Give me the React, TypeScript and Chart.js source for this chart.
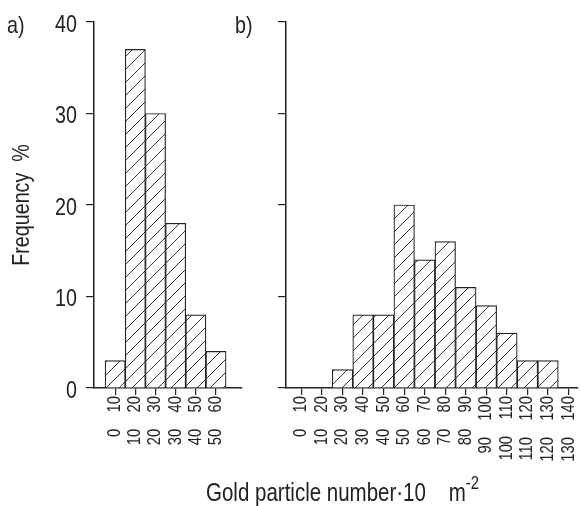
import React, { useEffect, useRef } from "react";
import { Chart, registerables } from "chart.js";

Chart.register(...registerables);

// ---- data ----
const lowA = [0, 10, 20, 30, 40, 50];
const highA = [10, 20, 30, 40, 50, 60];
const freqA = [3, 37, 30, 18, 8, 4];

const lowB = [0, 10, 20, 30, 40, 50, 60, 70, 80, 90, 100, 110, 120, 130];
const highB = [10, 20, 30, 40, 50, 60, 70, 80, 90, 100, 110, 120, 130, 140];
const freqB = [0, 0, 2, 8, 8, 20, 14, 16, 11, 9, 6, 3, 3, 0];

const yTicks = [0, 10, 20, 30, 40];

const INK = "#222";
const FAMILY = "'Liberation Sans', Arial, sans-serif";
const NARROW = 0.82;

// draws canvas text horizontally condensed (like a narrow Helvetica)
const narrowText = {
  id: "narrowText",
  beforeDraw(chart: any) {
    const ctx: any = chart.ctx;
    if (ctx.__narrow) return;
    const orig = ctx.fillText;
    ctx.fillText = function (text: string, x: number, y: number, maxWidth?: number) {
      this.save();
      this.translate(x, y);
      this.scale(NARROW, 1);
      if (maxWidth === undefined || maxWidth === null) orig.call(this, text, 0, 0);
      else orig.call(this, text, 0, 0, maxWidth / NARROW);
      this.restore();
    };
    ctx.__narrow = true;
  },
};

function makePattern(ctx: CanvasRenderingContext2D) {
  const s = 13;
  const c = document.createElement("canvas");
  c.width = s;
  c.height = s;
  const g = c.getContext("2d")!;
  g.fillStyle = "#fff";
  g.fillRect(0, 0, s, s);
  g.strokeStyle = "#333";
  g.lineWidth = 1;
  g.beginPath();
  g.moveTo(-1, s + 1);
  g.lineTo(s + 1, -1);
  g.moveTo(-2, 1);
  g.lineTo(1, -2);
  g.moveTo(s - 1, s + 2);
  g.lineTo(s + 2, s - 1);
  g.stroke();
  return ctx.createPattern(c, "repeat");
}

function buildConfig(
  low: number[],
  high: number[],
  freq: number[],
  xmin: number,
  xmax: number,
  yWidth: number,
  rightPad: number,
  showY: boolean,
  pattern: any
): any {
  const labels = low.map((l, i) => `${l}    ${high[i]}`);
  return {
    type: "bar",
    data: {
      datasets: [
        {
          data: freq.map((v, i) => ({ x: i, y: v })),
          backgroundColor: pattern,
          borderColor: INK,
          borderWidth: 1.2,
          borderSkipped: "start",
          categoryPercentage: 1,
          barPercentage: 1,
        },
      ],
    },
    plugins: [narrowText],
    options: {
      animation: false,
      responsive: false,
      events: [],
      layout: { padding: { top: 22, right: rightPad, left: 0, bottom: 0 } },
      plugins: { legend: { display: false }, tooltip: { enabled: false } },
      scales: {
        x: {
          type: "linear",
          offset: false,
          min: xmin,
          max: xmax,
          afterBuildTicks: (s: any) => {
            s.ticks = low.map((_, i) => ({ value: i }));
          },
          afterFit: (s: any) => {
            s.height = 118;
            s.paddingLeft = 0;
            s.paddingRight = 0;
          },
          ticks: {
            autoSkip: false,
            minRotation: 90,
            maxRotation: 90,
            padding: 1,
            color: INK,
            font: { family: FAMILY, size: 18 },
            callback: (_v: any, i: number) => labels[i],
          },
          grid: {
            offset: false,
            drawOnChartArea: false,
            drawTicks: true,
            tickLength: 7,
            color: INK,
            lineWidth: 1.2,
          },
          border: { display: true, color: INK, width: 1.5 },
        },
        y: {
          min: 0,
          max: 40,
          afterBuildTicks: (s: any) => {
            s.ticks = yTicks.map((v) => ({ value: v }));
          },
          afterFit: (s: any) => {
            s.width = yWidth;
            s.paddingTop = 0;
            s.paddingBottom = 0;
          },
          ticks: {
            display: showY,
            padding: 9,
            labelOffset: 3,
            color: INK,
            font: { family: FAMILY, size: 24 },
            callback: (v: any) => String(v),
          },
          grid: {
            drawOnChartArea: false,
            drawTicks: true,
            tickLength: 8,
            color: INK,
            lineWidth: 1.2,
          },
          border: { display: true, color: INK, width: 1.5 },
          title: {
            display: showY,
            text: "Frequency  %",
            color: INK,
            font: { family: FAMILY, size: 24, weight: "normal" },
            padding: { top: 8, bottom: 0 },
          },
        },
      },
    },
  };
}

export default function App() {
  const refA = useRef<HTMLCanvasElement>(null);
  const refB = useRef<HTMLCanvasElement>(null);

  useEffect(() => {
    const ca = refA.current!;
    const cb = refB.current!;
    const pa = makePattern(ca.getContext("2d")!);
    const pb = makePattern(cb.getContext("2d")!);
    const chartA = new Chart(ca, buildConfig(lowA, highA, freqA, -1.05, 6.29, 94, 20, true, pa));
    const chartB = new Chart(cb, buildConfig(lowB, highB, freqB, -0.75, 13.46, 24, 3, false, pb));
    return () => {
      chartA.destroy();
      chartB.destroy();
    };
  }, []);

  const textStyle: React.CSSProperties = {
    position: "absolute",
    fontFamily: FAMILY,
    color: INK,
    lineHeight: 1,
    whiteSpace: "pre",
    transform: `scaleX(${NARROW})`,
    transformOrigin: "left top",
  };

  return (
    <div style={{ position: "absolute", left: 0, top: 0, width: 581, height: 506, background: "#fff", overflow: "hidden" }}>
      <canvas ref={refA} width={262} height={506} style={{ position: "absolute", left: 0, top: 0 }} />
      <canvas ref={refB} width={319} height={506} style={{ position: "absolute", left: 262, top: 0 }} />
      <div style={{ ...textStyle, left: 7, top: 13, fontSize: 24 }}>a)</div>
      <div style={{ ...textStyle, left: 235, top: 13, fontSize: 24 }}>b)</div>
      <div style={{ ...textStyle, left: 206, top: 480, fontSize: 25 }}>
        {"Gold particle number·10    m"}
        <sup style={{ fontSize: 18, verticalAlign: "top", position: "relative", top: -6 }}>-2</sup>
      </div>
    </div>
  );
}
